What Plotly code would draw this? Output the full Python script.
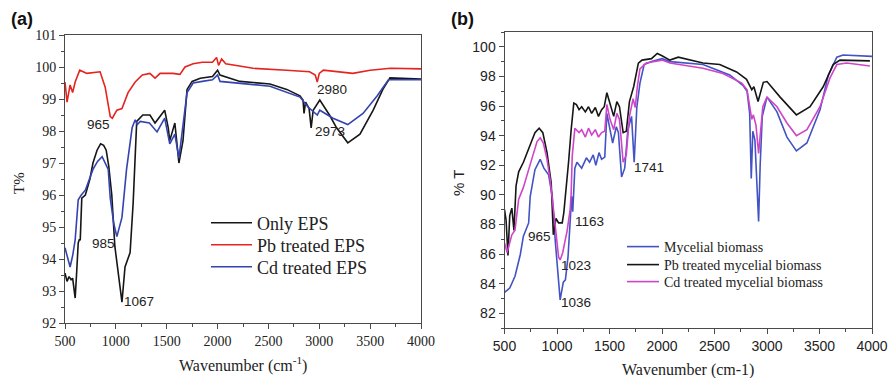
import plotly.graph_objects as go

# ---------------- Panel (a): EPS spectra ----------------
wn_eps = [500, 520, 540, 560, 575, 590, 600, 615, 630, 640, 650, 665, 700, 745, 775, 815, 850, 880, 905, 930,
          960, 990, 1020, 1045, 1060, 1090, 1140, 1170, 1190, 1205, 1265, 1335, 1385, 1420, 1480, 1515, 1530,
          1580, 1620, 1660, 1700, 1750, 1830, 1950, 2000, 2024, 2220, 2515, 2680, 2810, 2840, 2850, 2865, 2900,
          2920, 2940, 3005, 3100, 3170, 3280, 3400, 3530, 3625, 3695, 3800, 4000]
t_only_eps = [93.56, 93.3, 93.45, 93.35, 93.4, 93.1, 92.78, 93.6, 94.5, 94.6, 94.6, 95.9, 96.0, 96.5, 97.0, 97.4, 97.6, 97.55, 97.4, 96.9,
              96.0, 94.4, 93.6, 93.0, 92.65, 93.75, 94.2, 95.75, 97.3, 98.3, 98.5, 98.5, 98.25, 98.4, 98.65, 98.1, 97.7,
              98.25, 97.0, 97.7, 99.3, 99.55, 99.65, 99.7, 99.9, 99.75, 99.55, 99.47, 99.3, 99.1, 98.97, 98.55, 98.9, 98.7,
              98.1, 98.65, 98.97, 98.5, 98.1, 97.63, 97.9, 98.65, 99.3, 99.66, 99.64, 99.62]

wn_cd_eps = [500, 520, 550, 575, 600, 630, 660, 700, 745, 775, 820, 865, 925, 945, 980, 1010, 1060, 1105, 1160, 1190,
             1210, 1240, 1330, 1405, 1480, 1530, 1580, 1620, 1700, 1760, 1850, 1950, 2000, 2024, 2515, 2810, 2890,
             2980, 3005, 3135, 3280, 3430, 3570, 3680, 3800, 4000]
t_cd_eps = [94.35, 94.1, 93.75, 94.1, 94.6, 95.85, 96.0, 96.15, 96.55, 96.8, 97.05, 97.2, 96.8, 95.9, 95.1, 94.7, 95.3, 96.8, 98.1, 98.35,
            98.2, 98.3, 98.25, 97.97, 98.4, 97.6, 97.9, 97.15, 99.2, 99.5, 99.55, 99.6, 99.75, 99.55, 99.4, 99.06, 98.75,
            98.5, 98.65, 98.4, 98.2, 98.55, 99.1, 99.6, 99.6, 99.6]

wn_pb_eps = [500, 520, 550, 575, 600, 645, 715, 845, 895, 945, 965, 1010, 1060, 1120, 1190, 1260, 1335, 1385, 1435,
             1560, 1630, 1680, 1760, 1850, 1950, 1990, 2010, 2040, 2080, 2350, 2680, 2905, 2960, 2980, 3000, 3040,
             3330, 3500, 3700, 4000]
t_pb_eps = [99.53, 98.9, 99.44, 99.2, 99.53, 99.9, 99.8, 99.85, 99.37, 98.45, 98.4, 98.65, 98.7, 99.2, 99.53, 99.75, 99.8, 99.65, 99.8,
            99.8, 99.77, 100.0, 100.1, 100.15, 100.15, 100.3, 100.05, 100.25, 100.1, 99.96, 99.9, 99.85, 99.75, 99.53, 99.8, 99.9,
            99.8, 99.9, 99.96, 99.94]

peaks_a_text = ["965", "985", "1067", "2980", "2973"]
peaks_a_x = [834, 874, 1228, 3125, 3105]
peaks_a_y = [98.19, 94.47, 92.66, 99.31, 98.0]

# ---------------- Panel (b): mycelial biomass spectra ----------------
wn_myc = [500, 550, 600, 650, 680, 730, 745, 790, 840, 875, 920, 955, 985, 1005, 1030, 1060, 1080, 1105, 1125, 1140,
          1150, 1170, 1190, 1235, 1280, 1310, 1345, 1370, 1400, 1425, 1455, 1475, 1505, 1530, 1565, 1585, 1615,
          1645, 1675, 1710, 1735, 1760, 1790, 1830, 1900, 2000, 2075, 2390, 2645, 2770, 2810, 2835, 2850, 2865,
          2885, 2905, 2920, 2935, 2955, 3000, 3095, 3190, 3280, 3380, 3505, 3585, 3665, 3725, 4000]
t_myc = [83.4, 83.7, 84.5, 85.95, 87.2, 88.1, 89.9, 91.7, 92.4, 91.8, 91.35, 89.9, 86.75, 85.1, 82.9, 84.1, 84.25, 85.8, 88.1, 89.9,
         88.85, 91.8, 92.2, 91.8, 92.5, 92.2, 92.7, 92.0, 92.85, 92.4, 92.55, 95.5, 94.4, 93.5, 94.6, 94.2, 91.2,
         91.8, 94.4, 95.3, 92.2, 95.9, 97.55, 98.8, 99.0, 99.2, 99.0, 98.8, 98.1, 97.4, 97.0, 95.5, 91.1, 94.3,
         93.7, 91.0, 88.2, 92.0, 95.3, 96.6, 95.6, 93.9, 92.97, 93.5, 95.75, 98.1, 99.3, 99.45, 99.35]

wn_pb_myc = [500, 515, 533, 550, 570, 590, 610, 635, 680, 745, 790, 830, 865, 905, 945, 965, 990, 1015, 1050, 1065,
             1080, 1095, 1110, 1135, 1160, 1185, 1210, 1235, 1270, 1300, 1330, 1365, 1395, 1425, 1450, 1475, 1505,
             1540, 1570, 1595, 1630, 1660, 1690, 1730, 1775, 1810, 1900, 1955, 2000, 2075, 2155, 2390, 2550, 2710,
             2805, 2855, 2875, 2915, 2965, 3000, 3125, 3280, 3410, 3535, 3630, 3695, 3980]
t_pb_myc = [89.0, 88.3, 85.9, 88.6, 89.1, 87.6, 90.6, 91.55, 92.2, 93.4, 94.2, 94.5, 94.2, 92.85, 90.8, 87.3, 88.4, 88.1, 88.1, 88.8,
            89.8, 90.8, 92.2, 94.4, 96.2, 96.1, 95.75, 95.95, 95.6, 95.95, 95.5, 95.9, 95.3, 95.75, 95.95, 96.9, 96.1,
            95.3, 96.3, 95.95, 94.2, 94.3, 96.3, 97.3, 98.9, 99.1, 99.2, 99.55, 99.4, 99.1, 99.3, 98.9, 98.8, 98.3,
            97.8, 97.1, 97.3, 96.3, 97.6, 97.65, 96.6, 95.4, 95.95, 97.3, 98.8, 99.1, 99.05]

wn_cd_myc = [500, 525, 570, 600, 635, 680, 730, 780, 810, 840, 870, 905, 935, 965, 990, 1015, 1030, 1055, 1080, 1095,
             1125, 1135, 1145, 1160, 1170, 1210, 1235, 1270, 1300, 1330, 1365, 1395, 1425, 1455, 1475, 1505, 1540,
             1570, 1595, 1630, 1660, 1690, 1725, 1745, 1765, 1790, 1850, 2000, 2075, 2390, 2580, 2760, 2810, 2855,
             2870, 2895, 2920, 2960, 3000, 3095, 3190, 3280, 3380, 3505, 3600, 3665, 3760, 3980]
t_cd_myc = [86.75, 86.1, 87.3, 87.6, 89.7, 90.5, 91.7, 92.9, 93.6, 93.85, 93.5, 92.4, 91.0, 89.1, 87.6, 85.8, 85.6, 86.1, 87.0, 87.5,
            89.0, 90.1, 92.6, 94.05, 94.5, 94.2, 94.4, 93.9, 94.5, 94.05, 94.4, 93.9, 94.2, 94.3, 96.1, 95.1, 94.4,
            95.5, 95.1, 92.2, 92.7, 95.3, 96.5, 95.9, 97.3, 98.5, 98.9, 99.1, 98.9, 98.55, 98.2, 97.55, 97.1, 95.1,
            95.4, 94.7, 92.8, 95.95, 96.6, 95.95, 94.85, 94.0, 94.4, 95.95, 97.9, 98.8, 98.9, 98.7]

peaks_b_text = ["1741", "965", "1163", "1023", "1036"]
peaks_b_x = [1876, 829, 1314, 1181, 1181]
peaks_b_y = [91.82, 87.16, 88.18, 85.2, 82.7]

BLACK = "#161616"
RED = "#e5231f"
BLUE_A = "#3443b0"
BLUE_B = "#4254c4"
MAGENTA = "#cf45c9"
SERIF = "Liberation Serif"
SANS = "Liberation Sans"

W, H = 891, 378

fig = go.Figure()

# one legend per entry so each row sits where the key is drawn
series = [
    (wn_eps, t_only_eps, "Only EPS", BLACK, "x", "y", "legend"),
    (wn_pb_eps, t_pb_eps, "Pb treated EPS", RED, "x", "y", "legend2"),
    (wn_cd_eps, t_cd_eps, "Cd treated EPS", BLUE_A, "x", "y", "legend3"),
    (wn_myc, t_myc, "Mycelial biomass", BLUE_B, "x2", "y2", "legend4"),
    (wn_pb_myc, t_pb_myc, "Pb treated mycelial biomass", BLACK, "x2", "y2", "legend5"),
    (wn_cd_myc, t_cd_myc, "Cd treated mycelial biomass", MAGENTA, "x2", "y2", "legend6"),
]
for xs, ys, name, color, xa, ya, lg in series:
    fig.add_trace(go.Scatter(x=xs, y=ys, mode="lines", name=name,
                             line=dict(color=color, width=1.6), xaxis=xa, yaxis=ya, legend=lg))

axis_common = dict(showline=True, mirror=True, linecolor="#4a4a4a", linewidth=1, automargin=False,
                   ticks="outside", ticklen=5, tickcolor="#4a4a4a", showgrid=False, zeroline=False)


def key(xpx, ypx, size, width):
    return dict(x=xpx / W, y=1 - ypx / H, xanchor="left", yanchor="middle",
                bgcolor="rgba(0,0,0,0)", font=dict(family=SERIF, size=size, color="#222"),
                itemwidth=width)


fig.update_layout(
    width=W, height=H,
    margin=dict(l=0, r=0, t=0, b=0, autoexpand=False),
    paper_bgcolor="white", plot_bgcolor="white",
    xaxis=dict(domain=[65 / W, 421 / W], range=[500, 4000], dtick=500, tick0=0,
               tickfont=dict(family=SERIF, size=14, color="#222"),
               minor=dict(ticks="outside", ticklen=3, dtick=250, tickcolor="#4a4a4a"),
               anchor="y", **axis_common),
    yaxis=dict(domain=[1 - 323 / H, 1 - 35 / H], range=[92, 101], dtick=1, tick0=0,
               tickfont=dict(family=SERIF, size=14, color="#222"),
               minor=dict(ticks="outside", ticklen=3, dtick=0.5, tickcolor="#4a4a4a"),
               anchor="x", **axis_common),
    xaxis2=dict(domain=[504.5 / W, 872 / W], range=[500, 4000], dtick=500, tick0=0,
                tickfont=dict(family=SANS, size=14, color="#222"),
                minor=dict(ticks="outside", ticklen=3, dtick=250, tickcolor="#4a4a4a"),
                anchor="y2", **axis_common),
    yaxis2=dict(domain=[1 - 328 / H, 1 - 32 / H], range=[81, 101], dtick=2, tick0=0,
                tickfont=dict(family=SANS, size=14, color="#222"),
                minor=dict(ticks="outside", ticklen=3, dtick=1, tickcolor="#4a4a4a"),
                anchor="x2", **axis_common),
    legend=key(206, 223, 18, 41),
    legend2=key(206, 245, 18, 41),
    legend3=key(206, 267, 18, 41),
    legend4=key(622, 247, 14, 32),
    legend5=key(622, 265, 14, 32),
    legend6=key(622, 282, 14, 32),
    showlegend=True,
)

annotations = []
for txt, xv, yv in zip(peaks_a_text, peaks_a_x, peaks_a_y):
    annotations.append(dict(text=txt, x=xv, y=yv, xref="x", yref="y", showarrow=False,
                            xanchor="center", yanchor="middle",
                            font=dict(family=SANS, size=13.5, color="#222")))
for txt, xv, yv in zip(peaks_b_text, peaks_b_x, peaks_b_y):
    annotations.append(dict(text=txt, x=xv, y=yv, xref="x2", yref="y2", showarrow=False,
                            xanchor="center", yanchor="middle",
                            font=dict(family=SANS, size=13.5, color="#222")))


def label(text, xpx, ypx, family, size, angle=0, color="#222"):
    return dict(text=text, x=xpx / W, y=1 - ypx / H, xref="paper", yref="paper",
                xanchor="center", yanchor="middle", textangle=angle, showarrow=False,
                font=dict(family=family, size=size, color=color))


# axis titles and panel letters
annotations += [
    label("Wavenumber (cm<sup>-1</sup>)", 243, 364, SERIF, 16),
    label("Wavenumber (cm-1)", 688, 370, SERIF, 16),
    label("T%", 19, 183, SERIF, 15, -90),
    label("% T", 458, 183, SANS, 15, -90),
    label("<b>(a)</b>", 22, 19, SANS, 18, 0, "#111"),
    label("<b>(b)</b>", 462, 19, SANS, 18, 0, "#111"),
]
fig.update_layout(annotations=annotations)

fig.write_html("out.html")
